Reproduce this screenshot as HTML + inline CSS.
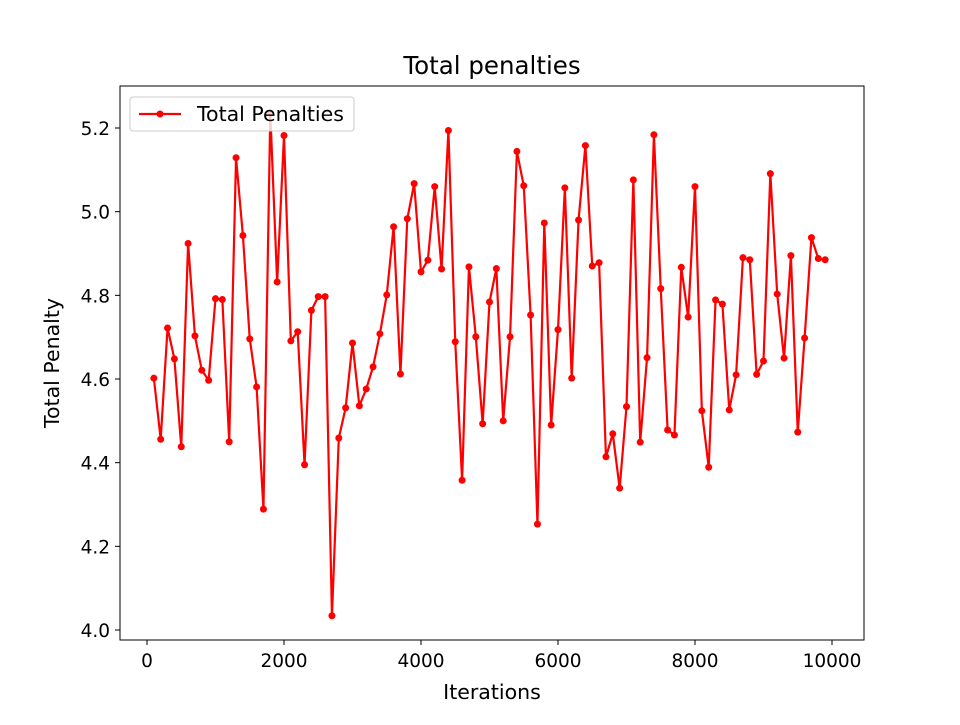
<!DOCTYPE html>
<html><head><meta charset="utf-8"><style>
html,body{margin:0;padding:0;background:#fff}
svg text{font-family:"DejaVu Sans","Liberation Sans",sans-serif;fill:#000}
</style></head><body>
<svg id="chart" width="960" height="720" viewBox="0 0 960 720" xmlns="http://www.w3.org/2000/svg">
<rect width="960" height="720" fill="#fff"/>
<text x="492" y="74" font-size="24.5" text-anchor="middle">Total penalties</text>
<g id="ticks"></g>
<g id="series"></g>
<rect x="120" y="86" width="744" height="554" fill="none" stroke="#000" stroke-width="1"/>
<text x="492" y="699" font-size="20.5" text-anchor="middle">Iterations</text>
<text transform="translate(59,363) rotate(-90)" font-size="20.5" text-anchor="middle">Total Penalty</text>
<g>
<rect x="130" y="97" width="224" height="34" rx="3" fill="#fff" fill-opacity="0.8" stroke="#ccc"/>
<line x1="139" y1="114" x2="181" y2="114" stroke="#f00" stroke-width="2.2"/>
<circle cx="160" cy="114" r="3.5" fill="#f00"/>
<text x="197" y="121" font-size="20.5">Total Penalties</text>
</g>
</svg>
<script>
const iterations = [];
for (let i = 1; i <= 99; i++) iterations.push(i * 100);
const penalties = [4.602,4.456,4.722,4.648,4.438,4.924,4.703,4.621,4.597,4.792,
4.790,4.450,5.129,4.943,4.696,4.581,4.289,5.235,4.832,5.182,
4.691,4.713,4.395,4.764,4.797,4.797,4.034,4.459,4.531,4.686,
4.536,4.576,4.629,4.708,4.801,4.964,4.612,4.983,5.067,4.856,
4.884,5.060,4.863,5.194,4.689,4.358,4.868,4.701,4.493,4.784,
4.864,4.500,4.701,5.144,5.062,4.753,4.253,4.973,4.490,4.718,
5.057,4.602,4.980,5.158,4.870,4.878,4.414,4.469,4.339,4.534,
5.076,4.449,4.651,5.184,4.816,4.478,4.466,4.867,4.748,5.060,
4.524,4.389,4.789,4.779,4.526,4.610,4.890,4.885,4.611,4.643,
5.091,4.803,4.650,4.895,4.473,4.698,4.938,4.888,4.885];
const xTicks = [0,2000,4000,6000,8000,10000];
const yTicks = [4.0,4.2,4.4,4.6,4.8,5.0,5.2];
const xLabels = ["0","2000","4000","6000","8000","10000"];
const yLabels = ["4.0","4.2","4.4","4.6","4.8","5.0","5.2"];

const NS = "http://www.w3.org/2000/svg";
function sx(v){ return 147 + (v - 0) * (832 - 147) / 10000; }
function sy(v){ return 630 - (v - 4.0) * (630 - 128) / 1.2; }
const tg = document.getElementById('ticks');
xTicks.forEach((t, i) => {
  const l = document.createElementNS(NS, 'line');
  l.setAttribute('x1', sx(t)); l.setAttribute('x2', sx(t));
  l.setAttribute('y1', 640); l.setAttribute('y2', 645);
  l.setAttribute('stroke', '#000');
  
  
  tg.appendChild(l);
  const tx = document.createElementNS(NS, 'text');
  tx.setAttribute('x', sx(t)); tx.setAttribute('y', 667);
  tx.setAttribute('font-size', '18.5'); tx.setAttribute('text-anchor', 'middle');
  tx.textContent = xLabels[i];
  
  
  tg.appendChild(tx);
});
yTicks.forEach((t, i) => {
  const l = document.createElementNS(NS, 'line');
  l.setAttribute('x1', 115); l.setAttribute('x2', 120);
  l.setAttribute('y1', sy(t)); l.setAttribute('y2', sy(t));
  l.setAttribute('stroke', '#000');
  
  
  tg.appendChild(l);
  const tx = document.createElementNS(NS, 'text');
  tx.setAttribute('x', 110); tx.setAttribute('y', sy(t) + 7);
  tx.setAttribute('font-size', '18.5'); tx.setAttribute('text-anchor', 'end');
  tx.textContent = yLabels[i];
  
  
  tg.appendChild(tx);
});
const sg = document.getElementById('series');
const pl = document.createElementNS(NS, 'polyline');
pl.setAttribute('points', iterations.map((x, i) => sx(x) + ',' + sy(penalties[i])).join(' '));
pl.setAttribute('fill', 'none'); pl.setAttribute('stroke', '#f00');
pl.setAttribute('stroke-width', '2.2'); pl.setAttribute('stroke-linejoin', 'round');


sg.appendChild(pl);
iterations.forEach((x, i) => {
  const c = document.createElementNS(NS, 'circle');
  c.setAttribute('cx', sx(x)); c.setAttribute('cy', sy(penalties[i]));
  c.setAttribute('r', 3.5); c.setAttribute('fill', '#f00');
  
  
  sg.appendChild(c);
});
</script>
</body></html>
